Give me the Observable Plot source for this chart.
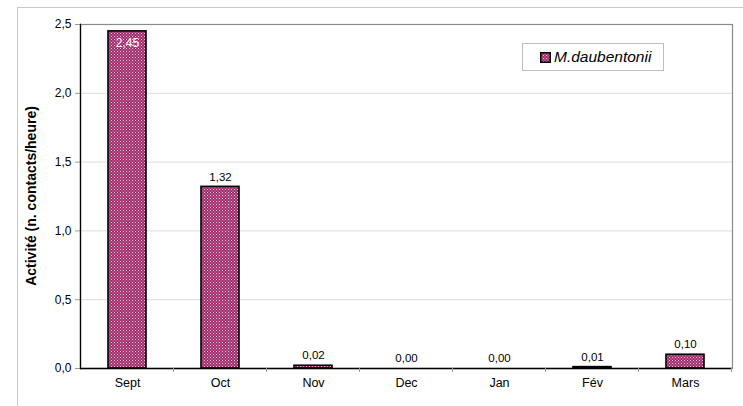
<!DOCTYPE html>
<html><head><meta charset="utf-8">
<script src="https://cdn.jsdelivr.net/npm/d3@7"></script>
<script src="https://cdn.jsdelivr.net/npm/@observablehq/plot@0.6"></script>
<style>
html,body{margin:0;padding:0;background:#fff;overflow:hidden;width:743px;height:406px;font-family:"Liberation Sans",Arial,sans-serif;}
#wrap{position:relative;width:743px;height:406px;}
#outer{position:absolute;left:17px;top:7px;width:800px;height:500px;border:1px solid #c8c8c8;}
#legend{position:absolute;left:522px;top:43px;width:140px;height:26px;border:1px solid #bdbdbd;background:#fff;display:flex;align-items:center;font-size:15.5px;font-style:italic;color:#000;}
#legend svg{margin-left:17px;margin-right:3px;}
#chart{position:absolute;left:0;top:0;}
</style></head>
<body><div id="wrap"><div id="outer"></div><div id="chart"></div><div id="legend"><svg width="11" height="11"><defs><pattern id="patL" width="3" height="3" patternUnits="userSpaceOnUse"><rect width="3" height="3" fill="#a02c6b"/><rect x="0" y="0" width="1" height="1" fill="#f0c6dc"/><rect x="1.5" y="1.5" width="1" height="1" fill="#e6a9ca"/></pattern></defs><rect x="0.75" y="0.75" width="9.5" height="9.5" fill="url(#patL)" stroke="#000" stroke-width="1.5"/></svg><span>M.daubentonii</span></div></div>
<script>
const months = ["Sept","Oct","Nov","Dec","Jan","Fév","Mars"];
const values = [2.45,1.32,0.02,0.00,0.00,0.01,0.10];
const yTicks = [0,0.5,1,1.5,2,2.5];
const seriesName = "M.daubentonii";

const data = months.map((m,i)=>({month:m, value:values[i]}));
const fmt2 = v => v.toFixed(2).replace(".",",");
const fmt1 = v => v.toFixed(1).replace(".",",");

const chart = Plot.plot({
  width:743, height:406,
  marginLeft:80, marginRight:11, marginTop:24, marginBottom:38,
  style:{fontFamily:"'Liberation Sans',Arial,sans-serif", fontSize:"11px", background:"transparent", color:"#000"},
  x:{domain:months, paddingInner:0.59, paddingOuter:0.295, label:null},
  y:{domain:[0,2.5], ticks:yTicks, label:null},
  marks:[
    Plot.gridY(yTicks.filter(t=>t>0 && t<2.5), {stroke:"#dcdcdc", strokeOpacity:1}),
    Plot.frame({stroke:"#8a8a8a", strokeWidth:1.2}),
    Plot.axisY({ticks:yTicks, tickFormat:fmt1, tickSize:5, tickPadding:4, stroke:"#999", fontSize:12, label:null}),
    Plot.axisX({tickSize:0, tickPadding:10, fontSize:12.5, label:null}),
    Plot.barY(data, {x:"month", y:"value", fill:"url(#pat)", stroke:"#000", strokeWidth:1.6}),
    Plot.frame({anchor:"left", stroke:"#000", strokeWidth:1.3}),
    Plot.ruleY([0], {stroke:"#000", strokeWidth:1.3}),
    Plot.text(data.filter(d=>d.value>=2), {x:"month", y:"value", text:d=>fmt2(d.value), dy:12, fill:"#fff", fontSize:12}),
    Plot.text(data.filter(d=>d.value<2), {x:"month", y:"value", text:d=>fmt2(d.value), dy:-10, fill:"#000", fontSize:11.5})
  ]
});
// pattern defs
const svg = d3.select(chart);
const defs = svg.insert("defs",":first-child");
const p = defs.append("pattern").attr("id","pat").attr("width",3).attr("height",3).attr("patternUnits","userSpaceOnUse");
p.append("rect").attr("width",3).attr("height",3).attr("fill","#a02c6b");
p.append("rect").attr("x",0).attr("y",0).attr("width",1).attr("height",1).attr("fill","#f0c6dc");
p.append("rect").attr("x",1.5).attr("y",1.5).attr("width",1).attr("height",1).attr("fill","#e6a9ca");
// category boundary ticks
const xs = chart.scale("x");
const y0 = chart.scale("y").apply(0);
const bounds = months.map(m => xs.apply(m) + xs.bandwidth/2 - xs.step/2).concat([xs.apply(months[months.length-1]) + xs.bandwidth/2 + xs.step/2]);
svg.append("g").selectAll("line").data(bounds.slice(1)).join("line")
  .attr("x1",d=>d).attr("x2",d=>d).attr("y1",y0).attr("y2",y0+4)
  .attr("stroke","#999").attr("stroke-width",1);
// y title
svg.append("text").attr("transform",`translate(36,${(24+368)/2}) rotate(-90)`)
  .attr("text-anchor","middle").attr("font-weight","bold").attr("font-size","14px")
  .attr("font-family","'Liberation Sans',Arial,sans-serif").text("Activité (n. contacts/heure)");
document.getElementById("chart").appendChild(chart);
</script></body></html>
